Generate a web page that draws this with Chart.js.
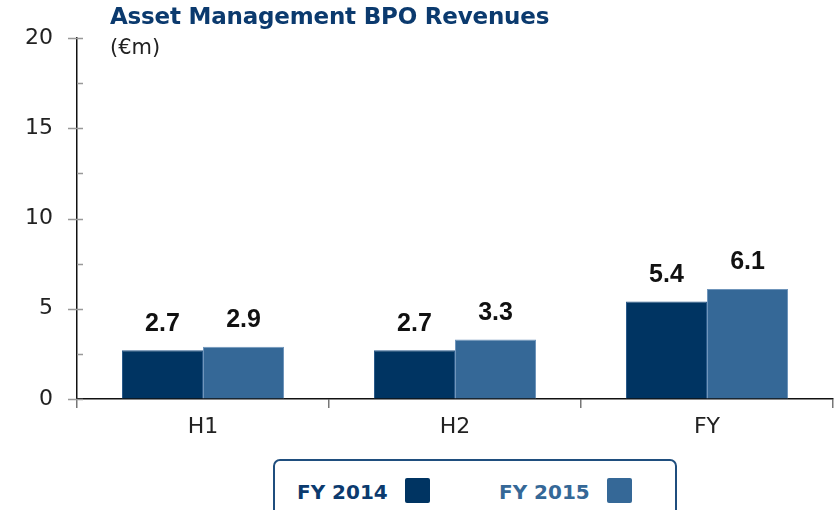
<!DOCTYPE html>
<html>
<head>
<meta charset="utf-8">
<script src="https://cdn.jsdelivr.net/npm/chart.js@4"></script>
<style>
    body { margin: 0; background: #fff; }
    #wrap { position: relative; width: 837px; height: 510px; overflow: hidden; }
    #chartBox { position: absolute; left: 0; top: 0; width: 837px; height: 450px; }
    #title { position: absolute; left: 110px; top: 3px; font: bold 23px "DejaVu Sans", sans-serif; color: #0b3a6e; letter-spacing: -0.2px; }
    #unit { position: absolute; left: 110px; top: 35px; font: 21px "DejaVu Sans", sans-serif; color: #222; }
    #legend { position: absolute; left: 273px; top: 459px; width: 404px; height: 60px; border: 2px solid #1f4e7e; border-radius: 7px; box-sizing: border-box; }
    .item { position: absolute; top: 17px; font: bold 20px "DejaVu Sans", sans-serif; }
    .swatch { display: inline-block; width: 25px; height: 25px; border-radius: 2px; vertical-align: -4px; margin-left: 17px; }
</style>
</head>
<body>
<div id="wrap">
    <div id="chartBox"><canvas id="revChart"></canvas></div>
    <div id="title">Asset Management BPO Revenues</div>
    <div id="unit">(€m)</div>
    <div id="legend"></div>
</div>
<script>
// data
const categories = ["H1", "H2", "FY"];
const seriesNames = ["FY 2014", "FY 2015"];
const fy2014 = [2.7, 2.7, 5.4];
const fy2015 = [2.9, 3.3, 6.1];
const yTicks = [0, 5, 10, 15, 20];
const yMinorTicks = [2.5, 7.5, 12.5, 17.5];

const colors = ["#003462", "#356897"];
const textColors = ["#0b3a6e", "#356897"];

// value labels above bars
const valueLabels = {
    id: "valueLabels",
    afterDatasetsDraw(chart) {
        const ctx = chart.ctx;
        ctx.save();
        ctx.font = "bold 25px 'Liberation Sans', Arial, sans-serif";
        ctx.fillStyle = "#111";
        ctx.textAlign = "center";
        ctx.textBaseline = "bottom";
        chart.data.datasets.forEach((ds, i) => {
            chart.getDatasetMeta(i).data.forEach((bar, j) => {
                ctx.fillText(ds.data[j].toFixed(1), bar.x, bar.y - 14);
            });
        });
        ctx.restore();
    }
};

// y tick marks that cross the axis, plus short minor ticks
const yTickMarks = {
    id: "yTickMarks",
    afterDraw(chart) {
        const y = chart.scales.y;
        const ctx = chart.ctx;
        const x0 = y.right;
        ctx.save();
        ctx.strokeStyle = "#999";
        ctx.lineWidth = 1.5;
        ctx.beginPath();
        yTicks.forEach(v => {
            const py = Math.round(y.getPixelForValue(v)) + 0.5;
            ctx.moveTo(x0 - 9, py);
            ctx.lineTo(x0 + 6, py);
        });
        yMinorTicks.forEach(v => {
            const py = Math.round(y.getPixelForValue(v)) + 0.5;
            ctx.moveTo(x0, py);
            ctx.lineTo(x0 + 6, py);
        });
        ctx.stroke();
        ctx.restore();
    }
};

new Chart(document.getElementById("revChart"), {
    type: "bar",
    data: {
        labels: categories,
        datasets: [
            { label: seriesNames[0], data: fy2014, backgroundColor: colors[0], borderColor: "#2a5a8a", borderWidth: 1 },
            { label: seriesNames[1], data: fy2015, backgroundColor: colors[1], borderColor: "#6f95bb", borderWidth: 1 }
        ]
    },
    options: {
        responsive: true,
        maintainAspectRatio: false,
        animation: false,
        layout: { padding: { top: 38, right: 4, left: 0, bottom: 0 } },
        datasets: { bar: { barPercentage: 1, categoryPercentage: 0.643 } },
        plugins: {
            legend: { display: false },
            tooltip: { enabled: false }
        },
        scales: {
            x: {
                offset: true,
                grid: { display: true, drawOnChartArea: false, offset: true, tickLength: 9, color: "#777", lineWidth: 1.5 },
                border: { color: "#111", width: 1.5 },
                ticks: { color: "#222", font: { family: "DejaVu Sans", size: 22 }, padding: 6 },
                afterFit(scale) { scale.height = 51; }
            },
            y: {
                min: 0,
                max: 20,
                afterBuildTicks(scale) { scale.ticks = yTicks.map(v => ({ value: v })); },
                grid: { drawOnChartArea: false, tickLength: 9, color: "rgba(0,0,0,0)" },
                border: { color: "#111", width: 1.5 },
                ticks: { color: "#222", font: { family: "DejaVu Sans", size: 22 }, padding: 15 },
                afterFit(scale) { scale.width = 77; }
            }
        }
    },
    plugins: [valueLabels, yTickMarks]
});

// legend: name then swatch
const legend = document.getElementById("legend");
const lefts = [22, 224];
seriesNames.forEach((name, i) => {
    const item = document.createElement("div");
    item.className = "item";
    item.style.left = lefts[i] + "px";
    item.style.color = textColors[i];
    item.innerHTML = name + '<span class="swatch" style="background:' + colors[i] + '"></span>';
    legend.appendChild(item);
});
</script>
</body>
</html>
